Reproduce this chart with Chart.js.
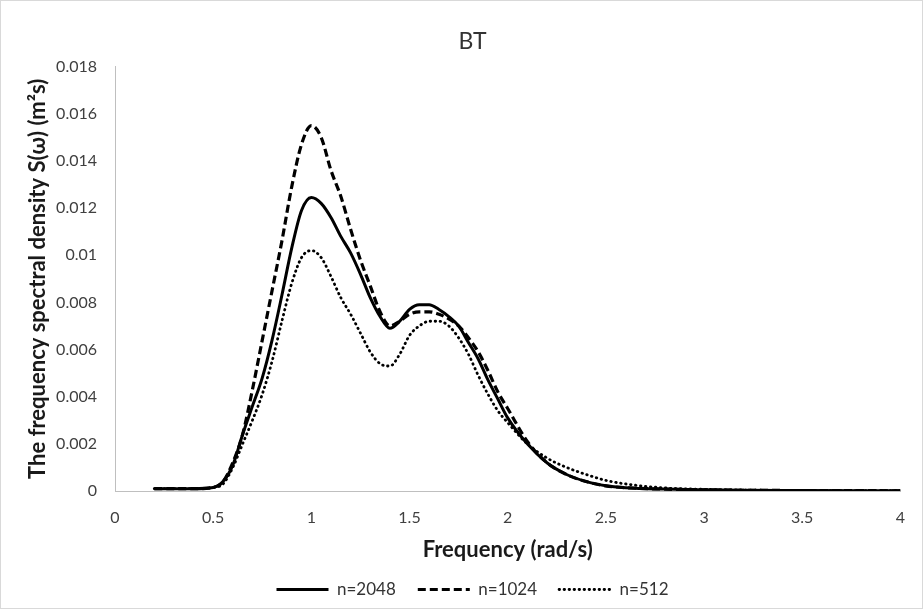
<!DOCTYPE html>
<html>
<head>
<meta charset="utf-8">
<script src="https://cdn.jsdelivr.net/npm/chart.js@4"></script>
<style>
  html, body { margin: 0; padding: 0; background: #fff; }
  #wrap { position: relative; width: 921px; height: 607px; border: 1px solid #d9d9d9; }
</style>
</head>
<body>
<div id="wrap"><canvas id="chart" width="921" height="607"></canvas></div>
<script>
// frequency grid (rad/s)
const freq = [0.2, 0.3, 0.4, 0.5, 0.55, 0.6, 0.65, 0.7, 0.75, 0.8, 0.85, 0.9, 0.95, 1.0,
  1.05, 1.1, 1.15, 1.2, 1.25, 1.3, 1.35, 1.4, 1.45, 1.5, 1.55, 1.6, 1.65, 1.7, 1.75, 1.8,
  1.85, 1.9, 1.95, 2.0, 2.1, 2.2, 2.3, 2.4, 2.5, 2.6, 2.8, 3.0, 3.2, 3.5, 4.0];

// S(w) for each record length
const n2048 = [0.0001, 0.0001, 0.0001, 0.00015, 0.0004, 0.0011, 0.0024, 0.0036, 0.0048, 0.0064,
  0.0083, 0.0103, 0.0119, 0.01245, 0.0122, 0.0116, 0.0108, 0.0101, 0.0092, 0.0082, 0.0074, 0.0069,
  0.0072, 0.0077, 0.0079, 0.0079, 0.0077, 0.0074, 0.0070, 0.0063, 0.0056, 0.0047, 0.0039, 0.0031,
  0.0020, 0.0012, 0.0007, 0.0004, 0.00022, 0.00014, 0.00008, 0.00005, 0.00003, 0.00002, 0.00001];

const n1024 = [0.0001, 0.0001, 0.0001, 0.00015, 0.0004, 0.0012, 0.0024, 0.0043, 0.0064, 0.0085,
  0.0106, 0.0129, 0.0147, 0.0155, 0.0150, 0.0136, 0.0125, 0.0111, 0.0098, 0.0087, 0.0076, 0.0070,
  0.0072, 0.0075, 0.0076, 0.0076, 0.0075, 0.0073, 0.0070, 0.0065, 0.0059, 0.0051, 0.0042, 0.0035,
  0.0021, 0.0012, 0.0007, 0.0004, 0.00022, 0.00014, 0.00008, 0.00005, 0.00003, 0.00002, 0.00001];

const n512 = [0.0001, 0.0001, 0.0001, 0.00015, 0.0003, 0.0010, 0.0020, 0.0030, 0.0041, 0.0055,
  0.0072, 0.0088, 0.0099, 0.0102, 0.0099, 0.0091, 0.0082, 0.0075, 0.0067, 0.0059, 0.0054, 0.0053,
  0.0058, 0.0066, 0.0070, 0.0072, 0.0072, 0.0070, 0.0065, 0.0058, 0.0049, 0.0041, 0.0034, 0.0029,
  0.0020, 0.0014, 0.0010, 0.0007, 0.00045, 0.0003, 0.00013, 0.00007, 0.00004, 0.00002, 0.00001];

const seriesNames = ['n=2048', 'n=1024', 'n=512'];
const xTicks = [0, 0.5, 1, 1.5, 2, 2.5, 3, 3.5, 4];
const yMax = 0.018;
const yStep = 0.002;

const toPoints = vals => freq.map((f, i) => ({ x: f, y: vals[i] }));

const fontFam = "Lato, 'Noto Sans', sans-serif";

const lineSet = (label, vals, dash, width, cap) => ({
  label: label,
  data: toPoints(vals),
  borderColor: '#000',
  backgroundColor: '#000',
  borderWidth: width,
  borderDash: dash,
  borderCapStyle: cap,
  pointRadius: 0,
  pointStyle: 'line',
  cubicInterpolationMode: 'monotone',
  fill: false
});

// legend samples should carry the dash pattern of each line
const legendLabels = chart => {
  const items = Chart.defaults.plugins.legend.labels.generateLabels(chart);
  items.forEach(it => {
    const ds = chart.data.datasets[it.datasetIndex];
    it.lineDash = ds.borderDash;
    it.lineCap = ds.borderCapStyle;
    it.lineWidth = ds.borderWidth;
    it.strokeStyle = '#000';
    it.pointStyle = 'line';
  });
  return items;
};

const ctx = document.getElementById('chart').getContext('2d');
new Chart(ctx, {
  type: 'line',
  data: {
    datasets: [
      lineSet(seriesNames[0], n2048, [], 3, 'butt'),
      lineSet(seriesNames[1], n1024, [8, 4], 3.2, 'butt'),
      lineSet(seriesNames[2], n512, [0.5, 4.5], 2.8, 'round')
    ]
  },
  options: {
    responsive: false,
    animation: false,
    layout: { padding: { left: 36, right: 14, top: 0, bottom: 0 } },
    plugins: {
      title: {
        display: true,
        text: 'BT',
        color: '#333',
        font: { family: fontFam, size: 23, weight: 'normal' },
        padding: { top: 27, bottom: 11 }
      },
      legend: {
        position: 'bottom',
        labels: {
          usePointStyle: true,
          pointStyleWidth: 52,
          color: '#333',
          font: { family: fontFam, size: 17 },
          padding: 22,
          generateLabels: legendLabels
        }
      },
      tooltip: { enabled: false }
    },
    scales: {
      x: {
        type: 'linear',
        min: 0,
        max: 4,
        afterBuildTicks: s => { s.ticks = xTicks.map(v => ({ value: v })); },
        afterFit: s => { s.height = 68; },
        grid: { display: false, drawTicks: false },
        border: { display: true, color: '#bfbfbf', width: 1 },
        ticks: {
          color: '#404040',
          font: { family: fontFam, size: 16 },
          padding: 17,
          maxRotation: 0,
          callback: v => String(+v.toFixed(1))
        },
        title: {
          display: true,
          text: 'Frequency (rad/s)',
          color: '#1a1a1a',
          font: { family: fontFam, size: 22, weight: 'bold' },
          padding: { top: 0, bottom: -4 }
        }
      },
      y: {
        min: 0,
        max: yMax,
        afterFit: s => { s.width = 78; },
        grid: { display: false, drawTicks: false },
        border: { display: true, color: '#bfbfbf', width: 1 },
        ticks: {
          stepSize: yStep,
          color: '#404040',
          font: { family: fontFam, size: 16 },
          padding: 18,
          callback: v => String(+v.toFixed(3))
        },
        title: {
          display: true,
          text: 'The frequency spectral density S(\u03c9) (m\u00b2s)',
          color: '#1a1a1a',
          font: { family: fontFam, size: 22, weight: 'bold' },
          padding: { top: -12, bottom: 0 }
        }
      }
    }
  }
});
</script>
</body>
</html>
